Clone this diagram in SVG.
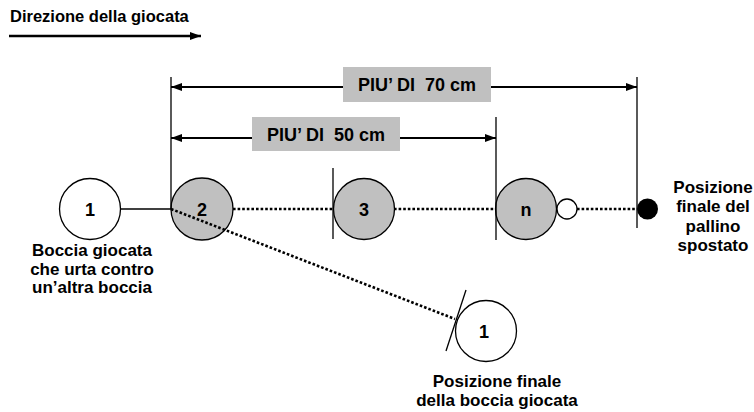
<svg xmlns="http://www.w3.org/2000/svg" width="754" height="412" viewBox="0 0 754 412">
<style>
text{font-family:"Liberation Sans",Arial,sans-serif;font-weight:bold;fill:#000}
.lbl{font-size:17px;text-anchor:middle}
.num{font-size:18px;text-anchor:middle}
.dim{font-size:18px;text-anchor:middle;white-space:pre}
.ball{stroke:#000;stroke-width:1.3}
.white{fill:#fff}
.grey{fill:#c0c0c0}
.thin{stroke:#000;stroke-width:1.3;fill:none}
.dot{stroke:#000;stroke-width:2.6;stroke-dasharray:2.6 2;fill:none}
.arr{stroke:#000;stroke-width:2.2;fill:none}
.box{fill:#c0c0c0}
</style>
<defs>
<marker id="ah" viewBox="0 0 11 8" refX="11" refY="4" markerWidth="11" markerHeight="8" markerUnits="userSpaceOnUse" orient="auto-start-reverse">
<path d="M0,0 L11,4 L0,8 Z" fill="#000"/>
</marker>
</defs>
<rect width="754" height="412" fill="#fff"/>

<g id="direction">
<text x="10" y="22" style="font-size:16.5px">Direzione della giocata</text>
<line x1="9" y1="36" x2="201" y2="36" class="arr" style="stroke-width:2.6" marker-end="url(#ah)"/>
</g>

<g id="ball1">
<circle cx="90" cy="209" r="30.5" class="ball white"/>
<text x="90" y="215.5" class="num">1</text>
<text x="92" y="256" class="lbl">Boccia giocata</text>
<text x="92" y="275" class="lbl">che urta contro</text>
<text x="92" y="293" class="lbl">un’altra boccia</text>
</g>

<g id="ball2">
<circle cx="202" cy="209" r="31" class="ball grey"/>
<text x="202" y="215.5" class="num">2</text>
</g>

<g id="ball3">
<circle cx="364" cy="209" r="30.5" class="ball grey"/>
<text x="364" y="215.5" class="num">3</text>
</g>

<g id="balln">
<circle cx="526" cy="209" r="30.5" class="ball grey"/>
<text x="526" y="215.5" class="num">n</text>
</g>

<g id="pallino">
<circle cx="567" cy="209" r="10" class="ball white"/>
</g>

<g id="pallino-final">
<circle cx="647.5" cy="209" r="10.5" fill="#000"/>
<text x="713" y="193" class="lbl">Posizione</text>
<text x="713" y="212" class="lbl">finale del</text>
<text x="713" y="232" class="lbl">pallino</text>
<text x="713" y="251" class="lbl">spostato</text>
</g>

<g id="ball1-final">
<circle cx="486" cy="331" r="30.5" class="ball white"/>
<text x="484" y="337.5" class="num">1</text>
<text x="497" y="387" class="lbl">Posizione finale</text>
<text x="497" y="406" class="lbl">della boccia giocata</text>
</g>

<g id="connectors">
<line x1="171" y1="77" x2="171" y2="209" class="thin"/>
<line x1="637" y1="77" x2="637" y2="228" class="thin"/>
<line x1="496" y1="117" x2="496" y2="240" class="thin"/>
<line x1="333" y1="168" x2="333" y2="239" class="thin"/>
<line x1="121" y1="209" x2="171" y2="209" class="thin"/>
<line x1="233" y1="209" x2="333" y2="209" class="dot"/>
<line x1="394" y1="209" x2="496" y2="209" class="dot"/>
<line x1="577" y1="209" x2="637" y2="209" class="dot"/>
<line x1="171" y1="209" x2="455" y2="319" class="dot"/>
<line x1="466" y1="290" x2="446" y2="351" class="thin"/>
<line x1="171" y1="87" x2="637" y2="87" class="arr" marker-start="url(#ah)" marker-end="url(#ah)"/>
<line x1="171" y1="138" x2="496" y2="138" class="arr" marker-start="url(#ah)" marker-end="url(#ah)"/>
</g>

<g id="dim70">
<rect x="343" y="67" width="148" height="35" class="box"/>
<text x="417" y="91" class="dim">PIU’ DI  70 cm</text>
</g>
<g id="dim50">
<rect x="252" y="117" width="148" height="34" class="box"/>
<text x="326" y="141" class="dim">PIU’ DI  50 cm</text>
</g>
</svg>
